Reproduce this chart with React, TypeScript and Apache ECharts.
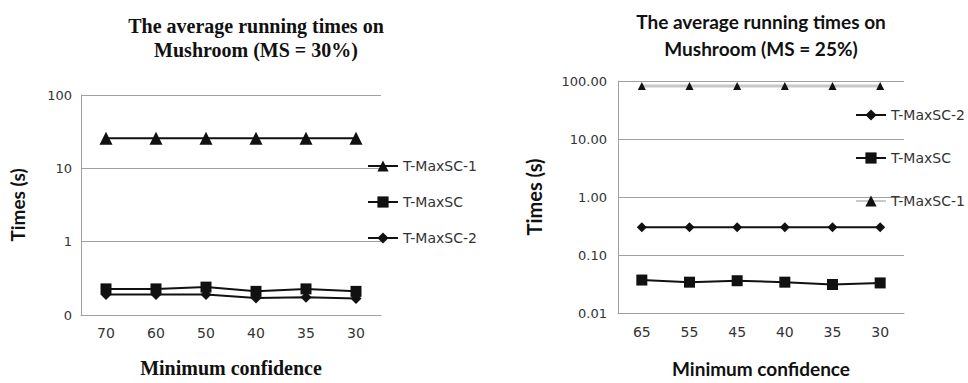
import React, { useEffect, useRef } from "react";
import * as echarts from "echarts";

const categoriesA = ["70", "60", "50", "40", "35", "30"];
const maxsc1A = [25.7, 25.7, 25.7, 25.7, 25.7, 25.7];
const maxscA = [0.227, 0.227, 0.24, 0.21, 0.227, 0.21];
const maxsc2A = [0.19, 0.19, 0.19, 0.171, 0.174, 0.168];

const categoriesB = ["65", "55", "45", "40", "35", "30"];
const maxsc2B = [0.3, 0.3, 0.3, 0.3, 0.3, 0.3];
const maxscB = [0.037, 0.034, 0.036, 0.034, 0.031, 0.033];
const maxsc1B = [82, 82, 82, 82, 82, 82];

const titleA = ["The average running times on", "Mushroom (MS = 30%)"];
const titleB = ["The average running times on", "Mushroom (MS = 25%)"];
const yNames = ["Times (s)", "Times (s)"];
const xNames = ["Minimum confidence", "Minimum confidence"];

const SANS = "DejaVu Sans";
const SERIF = "Liberation Serif";
const BOLDSANS = "Lato";

function optionA(): any {
  return {
    animation: false,
    backgroundColor: "#ffffff",
    graphic: [
      {
        type: "text",
        x: 256,
        y: 38,
        style: {
          text: titleA.join("\n"),
          font: `bold 20px "${SERIF}"`,
          fill: "#111",
          textAlign: "center",
          textVerticalAlign: "middle",
          lineHeight: 24,
        },
      },
    ],
    grid: { left: 79, right: 103, top: 95, bottom: 68 },
    legend: {
      orient: "vertical",
      left: 362,
      top: 154,
      itemWidth: 30,
      itemHeight: 14,
      itemGap: 22,
      data: ["T-MaxSC-1", "T-MaxSC", "T-MaxSC-2"],
      textStyle: { fontFamily: SANS, fontSize: 14, color: "#333" },
    },
    xAxis: {
      type: "category",
      data: categoriesA,
      boundaryGap: true,
      axisLine: { lineStyle: { color: "#a0a0a0", width: 1 } },
      axisTick: { show: false },
      axisLabel: { fontFamily: SANS, fontSize: 14, color: "#333", margin: 11 },
      name: xNames[0],
      nameLocation: "middle",
      nameGap: 43,
      nameTextStyle: { fontFamily: SERIF, fontWeight: "bold", fontSize: 20, color: "#111" },
    },
    yAxis: {
      type: "log",
      logBase: 10,
      min: 0.1,
      max: 100,
      axisLine: { show: true, lineStyle: { color: "#a0a0a0", width: 1 } },
      axisTick: { show: false },
      splitLine: { lineStyle: { color: "#a0a0a0", width: 1 } },
      axisLabel: {
        fontFamily: SANS,
        fontSize: 13,
        color: "#333",
        margin: 9,
        formatter: (v: number) => (v < 1 ? "0" : String(Math.round(v))),
      },
      name: yNames[0],
      nameLocation: "middle",
      nameGap: 54,
      nameTextStyle: { fontFamily: BOLDSANS, fontWeight: "bold", fontSize: 19, color: "#111" },
    },
    series: [
      {
        name: "T-MaxSC-1",
        type: "line",
        data: maxsc1A,
        symbol: "triangle",
        symbolSize: 13,
        lineStyle: { color: "#111", width: 2 },
        itemStyle: { color: "#111" },
      },
      {
        name: "T-MaxSC",
        type: "line",
        data: maxscA,
        symbol: "rect",
        symbolSize: 11,
        lineStyle: { color: "#111", width: 2 },
        itemStyle: { color: "#111" },
      },
      {
        name: "T-MaxSC-2",
        type: "line",
        data: maxsc2A,
        symbol: "diamond",
        symbolSize: 11,
        lineStyle: { color: "#111", width: 2 },
        itemStyle: { color: "#111" },
      },
    ],
  };
}

function optionB(): any {
  return {
    animation: false,
    backgroundColor: "#ffffff",
    graphic: [
      {
        type: "text",
        x: 277,
        y: 35,
        style: {
          text: titleB.join("\n"),
          font: `bold 19px "${BOLDSANS}"`,
          fill: "#111",
          textAlign: "center",
          textVerticalAlign: "middle",
          lineHeight: 27,
        },
      },
    ],
    grid: { left: 134, right: 64, top: 81, bottom: 64 },
    legend: {
      orient: "vertical",
      left: 366,
      top: 103,
      itemWidth: 30,
      itemHeight: 14,
      itemGap: 29,
      data: ["T-MaxSC-2", "T-MaxSC", "T-MaxSC-1"],
      textStyle: { fontFamily: SANS, fontSize: 14, color: "#333" },
    },
    xAxis: {
      type: "category",
      data: categoriesB,
      boundaryGap: true,
      axisLine: { lineStyle: { color: "#a0a0a0", width: 1 } },
      axisTick: { show: false },
      axisLabel: { fontFamily: SANS, fontSize: 14, color: "#333", margin: 12 },
      name: xNames[1],
      nameLocation: "middle",
      nameGap: 46,
      nameTextStyle: { fontFamily: BOLDSANS, fontWeight: "bold", fontSize: 19, color: "#111" },
    },
    yAxis: {
      type: "log",
      logBase: 10,
      min: 0.01,
      max: 100,
      axisLine: { show: true, lineStyle: { color: "#a0a0a0", width: 1 } },
      axisTick: { show: false },
      splitLine: { lineStyle: { color: "#a0a0a0", width: 1 } },
      axisLabel: {
        fontFamily: SANS,
        fontSize: 13,
        color: "#333",
        margin: 11,
        formatter: (v: number) => v.toFixed(2),
      },
      name: yNames[1],
      nameLocation: "middle",
      nameGap: 74,
      nameTextStyle: { fontFamily: BOLDSANS, fontWeight: "bold", fontSize: 20, color: "#111" },
    },
    series: [
      {
        name: "T-MaxSC-2",
        type: "line",
        data: maxsc2B,
        symbol: "diamond",
        symbolSize: 10,
        lineStyle: { color: "#111", width: 2 },
        itemStyle: { color: "#111" },
      },
      {
        name: "T-MaxSC",
        type: "line",
        data: maxscB,
        symbol: "rect",
        symbolSize: 11,
        lineStyle: { color: "#111", width: 2 },
        itemStyle: { color: "#111" },
      },
      {
        name: "T-MaxSC-1",
        type: "line",
        data: maxsc1B,
        symbol: "triangle",
        symbolSize: 8,
        lineStyle: { color: "#c8c8c8", width: 3 },
        itemStyle: { color: "#111" },
      },
    ],
  };
}

export default function App() {
  const refA = useRef<HTMLDivElement>(null);
  const refB = useRef<HTMLDivElement>(null);

  useEffect(() => {
    document.body.style.margin = "0";
    const a = echarts.init(refA.current!, undefined, { renderer: "svg" });
    const b = echarts.init(refB.current!, undefined, { renderer: "svg" });
    a.setOption(optionA());
    b.setOption(optionB());
    return () => {
      a.dispose();
      b.dispose();
    };
  }, []);

  return (
    <div style={{ position: "fixed", left: 0, top: 0, width: 968, height: 383, background: "#fff" }}>
      <div ref={refA} style={{ position: "absolute", left: 0, top: 0, width: 484, height: 383 }} />
      <div ref={refB} style={{ position: "absolute", left: 484, top: 0, width: 484, height: 383 }} />
    </div>
  );
}
